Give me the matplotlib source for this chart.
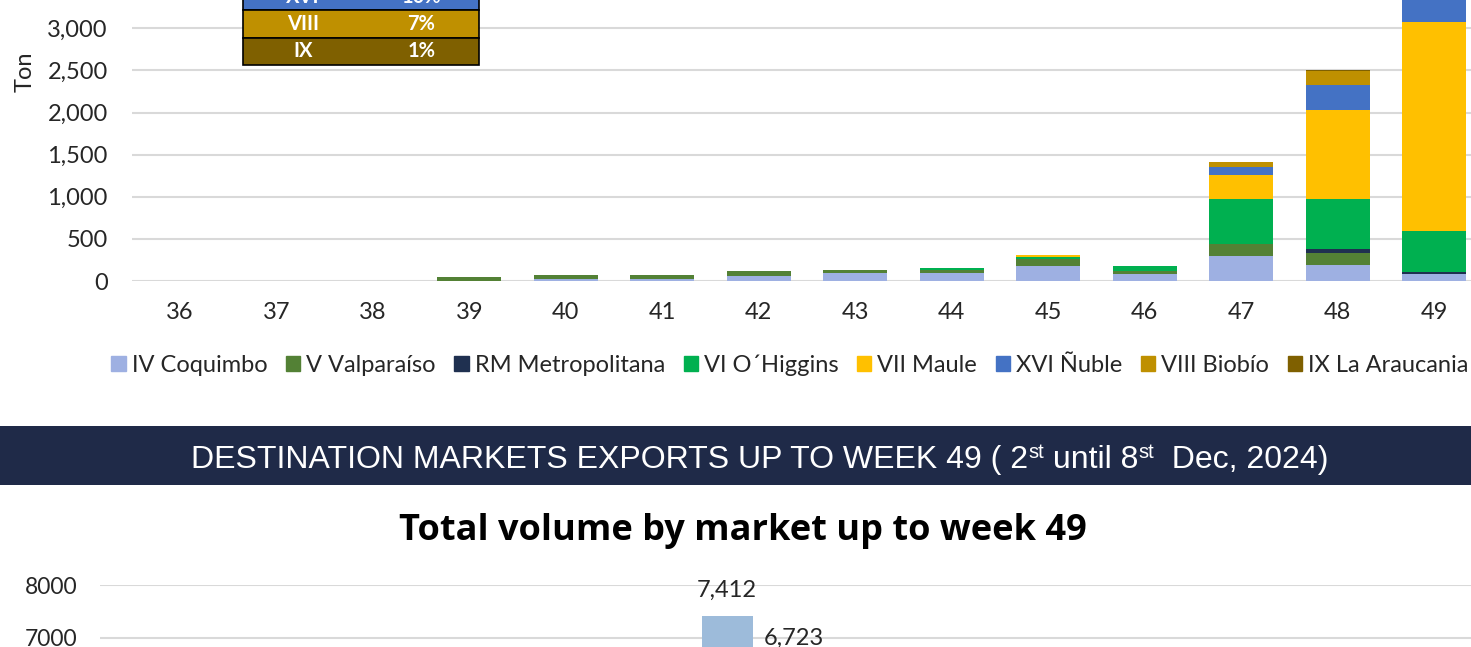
import numpy as np
import matplotlib
matplotlib.use("Agg")
import matplotlib.pyplot as plt
from matplotlib.patches import Rectangle

W, H = 1471, 647
INK, GRID, NAVY = "#262626", "#D9D9D9", "#1F2A48"
FONT = "Lato"

# ---- weekly volume by region (ton) ----
weeks = [36, 37, 38, 39, 40, 41, 42, 43, 44, 45, 46, 47, 48, 49]
regions = ["IV Coquimbo", "V Valparaíso", "RM Metropolitana", "VI O´Higgins",
           "VII Maule", "XVI Ñuble", "VIII Biobío", "IX La Araucania"]
region_colors = ["#9EB0E2", "#538135", "#1F3050", "#00B050",
                 "#FFC000", "#4472C4", "#BF9000", "#7F6000"]
coquimbo      = [0, 0, 0, 5, 20, 28, 64, 91, 100, 181, 83, 300, 190, 83]
valparaiso    = [0, 5, 0, 40, 47, 40, 51, 44, 35, 83, 39, 134, 142, 0]
metropolitana = [0, 0, 0, 0, 0, 0, 0, 0, 0, 0, 0, 0, 51, 27]
ohiggins      = [0, 0, 0, 0, 0, 0, 0, 0, 15, 20, 59, 535, 585, 482]
maule         = [0, 0, 0, 0, 0, 0, 0, 0, 0, 27, 0, 288, 1067, 2480]
nuble         = [0, 0, 0, 0, 0, 0, 0, 0, 0, 0, 0, 95, 289, 530]
biobio        = [0, 0, 0, 0, 0, 0, 0, 0, 0, 0, 0, 64, 166, 410]
araucania     = [0, 0, 0, 0, 0, 0, 0, 0, 0, 0, 0, 0, 20, 70]
series = [coquimbo, valparaiso, metropolitana, ohiggins,
          maule, nuble, biobio, araucania]

# share table (only lower rows visible)
table_regions = ["XVI", "VIII", "IX"]
table_shares = ["10%", "7%", "1%"]
table_colors = ["#4472C4", "#BF9000", "#7F6000"]

# ---- destination market totals ----
markets = ["North America"]
season_a = [7412]
season_b = [6723]
season_colors = ["#9DBBDA", "#2F5597"]


def fx(px):
    return px / W


def fy(py):
    return 1 - py / H


fig = plt.figure(figsize=(W / 100, H / 100), dpi=100)
fig.patch.set_facecolor("white")

# ---------------- top chart ----------------
ppu = (281 - 28.3) / 3000           # px per ton
ymax = 4000
top_px = 281 - ymax * ppu
ax = fig.add_axes([fx(131.5), fy(281), fx(1482.5) - fx(131.5), fy(top_px) - fy(281)])
x = np.arange(len(weeks))
bottom = np.zeros(len(weeks))
for vals, col, lab in zip(series, region_colors, regions):
    ax.bar(x, vals, 0.66, bottom=bottom, color=col, label=lab, zorder=3,
           linewidth=0)
    bottom += np.array(vals)
ax.set_xlim(-0.5, len(weeks) - 0.5)
ax.set_ylim(0, ymax)
ax.set_yticks(np.arange(0, ymax + 1, 500))
ax.set_yticklabels([f"{v:,}" for v in range(0, ymax + 1, 500)])
ax.set_xticks(x)
ax.set_xticklabels([str(w) for w in weeks])
ax.grid(axis="y", color=GRID, linewidth=1.5, zorder=0)
for s in ax.spines.values():
    s.set_visible(False)
ax.tick_params(length=0, labelsize=17, colors=INK)
ax.tick_params(axis="x", pad=15)
ax.tick_params(axis="y", pad=17)
for t in ax.get_xticklabels() + ax.get_yticklabels():
    t.set_fontfamily(FONT)

fig.text(fx(25), fy(72), "Ton", rotation=90, ha="center", va="center",
         fontsize=17, color=INK, family=FONT)

handles = [Rectangle((0, 0), 1, 1, color=c) for c in region_colors]
fig.legend(handles, regions, loc="center left", bbox_to_anchor=(fx(102), fy(365)),
           ncol=8, frameon=False, handlelength=0.6, handleheight=0.6,
           handletextpad=0.25, columnspacing=0.8, borderaxespad=0,
           prop={"family": FONT, "size": 17}, labelcolor=INK)

# share table inset
row_h = 27.3
n = len(table_regions)
tax = fig.add_axes([fx(243), fy(65), fx(479) - fx(243), fy(65 - n * row_h) - fy(65)])
tax.set_xlim(0, 1)
tax.set_ylim(n, 0)
tax.axis("off")
for i, (reg, sh, col) in enumerate(zip(table_regions, table_shares, table_colors)):
    tax.add_patch(Rectangle((0, i), 1, 1, facecolor=col, edgecolor="black",
                            linewidth=1.2, clip_on=False))
    tax.text(0.255, i + 0.5, reg, ha="center", va="center", color="white",
             fontsize=14.5, fontweight="bold", family=FONT)
    tax.text(0.755, i + 0.5, sh, ha="center", va="center", color="white",
             fontsize=14.5, fontweight="bold", family=FONT)

# ---------------- banner ----------------
fig.patches.append(Rectangle((0, fy(485)), 1, fy(426) - fy(485),
                             transform=fig.transFigure, facecolor=NAVY,
                             edgecolor="none", zorder=0))
pieces = [("DESTINATION MARKETS EXPORTS UP TO WEEK 49 ( 2", False), ("st", True),
          (" until 8", False), ("st", True), ("  Dec, 2024)", False)]
renderer = fig.canvas.get_renderer()
base_y = 468
widths = []
objs = []
for txt, sup in pieces:
    t = fig.text(0, fy(base_y - (10 if sup else 0)), txt, color="white",
                 fontsize=14.5 if sup else 23, family="Liberation Sans",
                 ha="left", va="baseline")
    widths.append(t.get_window_extent(renderer).width)
    objs.append(t)
cur = 760 - sum(widths) / 2
for t, w in zip(objs, widths):
    t.set_x(fx(cur))
    cur += w

fig.text(fx(743), fy(531), "Total volume by market up to week 49", ha="center",
         va="center", fontsize=26, fontweight="bold", color="black",
         family="Open Sans")

# ---------------- bottom chart ----------------
ppu2 = (638 - 585) / 1000
ax2_top = 585
ax2_bot = ax2_top + 8000 * ppu2
ax2 = fig.add_axes([fx(100), fy(ax2_bot), 1 - fx(100), fy(ax2_top) - fy(ax2_bot)])
xm = np.arange(len(markets))
off, bw = 0.335, 0.51
ax2.bar(xm - off, season_a, bw, color=season_colors[0], zorder=3)
ax2.bar(xm + off, season_b, bw, color=season_colors[1], zorder=3)
for xi, va_, vb_ in zip(xm, season_a, season_b):
    ax2.annotate(f"{va_:,}", (xi - off, va_), xytext=(0, 11), textcoords="offset points",
                 ha="center", va="bottom", fontsize=17, color=INK, family=FONT)
    ax2.annotate(f"{vb_:,}", (xi + off, vb_), xytext=(0, 3), textcoords="offset points",
                 ha="center", va="bottom", fontsize=17, color=INK, family=FONT)
ax2.set_xlim(-(760.5 - 100) / 100, (1471 - 760.5) / 100)
ax2.set_ylim(0, 8000)
ax2.set_yticks(np.arange(0, 8001, 1000))
ax2.set_xticks([])
ax2.grid(axis="y", color=GRID, linewidth=1.5, zorder=0)
for s in ax2.spines.values():
    s.set_visible(False)
ax2.tick_params(length=0, labelsize=16.5, colors=INK, pad=16)
for t in ax2.get_yticklabels():
    t.set_fontfamily(FONT)

fig.savefig("out.png", dpi=100)
